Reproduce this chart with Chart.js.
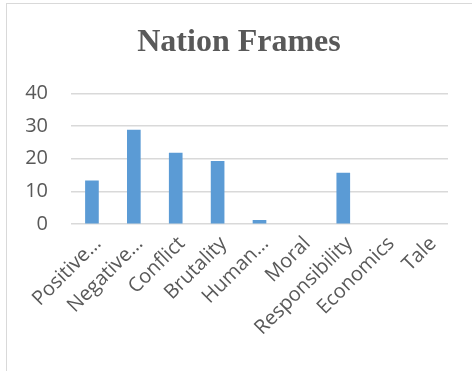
<!DOCTYPE html>
<html lang="en">
<head>
  <meta charset="UTF-8">
  <title>Nation Frames</title>
  <script src="https://cdn.jsdelivr.net/npm/chart.js"></script>
  <style>
    body { margin: 0; background: #fff; }
    .wrap { position: relative; width: 472px; height: 371px; }
    .frame {
      position: absolute; left: 6px; top: 3px; right: -2px; bottom: -2px;
      border: 1.5px solid #d9d9d9;
    }
    canvas { position: absolute; left: 0; top: 0; }
  </style>
</head>
<body>
  <div class="wrap">
    <div class="frame"></div>
    <canvas id="nationChart" width="472" height="371"></canvas>
  </div>

  <script>
    // frame categories (Excel truncates the long ones)
    const categories = ["Positive…", "Negative…", "Conflict", "Brutality", "Human…", "Moral", "Responsibility", "Economics", "Tale"];
    const frameValues = [13.2, 28.8, 21.7, 19.2, 1.1, 0, 15.6, 0, 0];
    const yTicks = [0, 10, 20, 30, 40];

    const txt = "#595959";
    const barBlue = "#5b9bd5";

    // Excel puts rotated labels a bit up/right of the category centre
    const nudgeLabels = {
      id: "nudgeLabels",
      afterLayout(chart) {
        chart.scales.x.getLabelItems().forEach((item) => {
          item.options.translation[0] += 6;
          item.options.translation[1] -= 4;
        });
      },
    };

    const config = {
      type: "bar",
      data: {
        labels: categories,
        datasets: [
          {
            label: "Nation Frames",
            data: frameValues,
            // empty categories get no mark at all
            backgroundColor: (ctx) => (ctx.raw ? barBlue : "rgba(0,0,0,0)"),
            borderWidth: 0,
            barThickness: 13,
          },
        ],
      },
      options: {
        responsive: false,
        animation: false,
        layout: { padding: { left: 6, right: 0, top: 0, bottom: 0 } },
        plugins: {
          legend: { display: false },
          tooltip: { enabled: false },
          title: {
            display: true,
            text: "Nation Frames",
            color: txt,
            font: { family: "'Liberation Serif', serif", size: 32, weight: "bold", lineHeight: 1.2 },
            padding: { top: 24, bottom: 31 },
          },
        },
        scales: {
          x: {
            grid: { display: false },
            border: { display: false },
            ticks: {
              color: txt,
              font: { family: "'Open Sans', sans-serif", size: 20 },
              minRotation: 45,
              maxRotation: 45,
              autoSkip: false,
              padding: 4,
            },
            afterFit: (s) => { s.height = 147; },
          },
          y: {
            min: yTicks[0],
            max: yTicks[yTicks.length - 1],
            border: { display: false },
            grid: { color: "#d9d9d9", lineWidth: 1.5, drawTicks: false },
            ticks: {
              stepSize: 10,
              color: txt,
              font: { family: "'Open Sans', sans-serif", size: 20 },
              padding: 23,
            },
            afterFit: (s) => { s.width = 65; },
          },
          // empty right-hand strip so the title centres like the original
          yRight: {
            position: "right",
            display: true,
            grid: { display: false },
            border: { display: false },
            ticks: { display: false },
            afterFit: (s) => { s.width = 24; },
          },
        },
      },
      plugins: [nudgeLabels],
    };

    const nationChart = new Chart(document.getElementById("nationChart"), config);
  </script>
</body>
</html>
